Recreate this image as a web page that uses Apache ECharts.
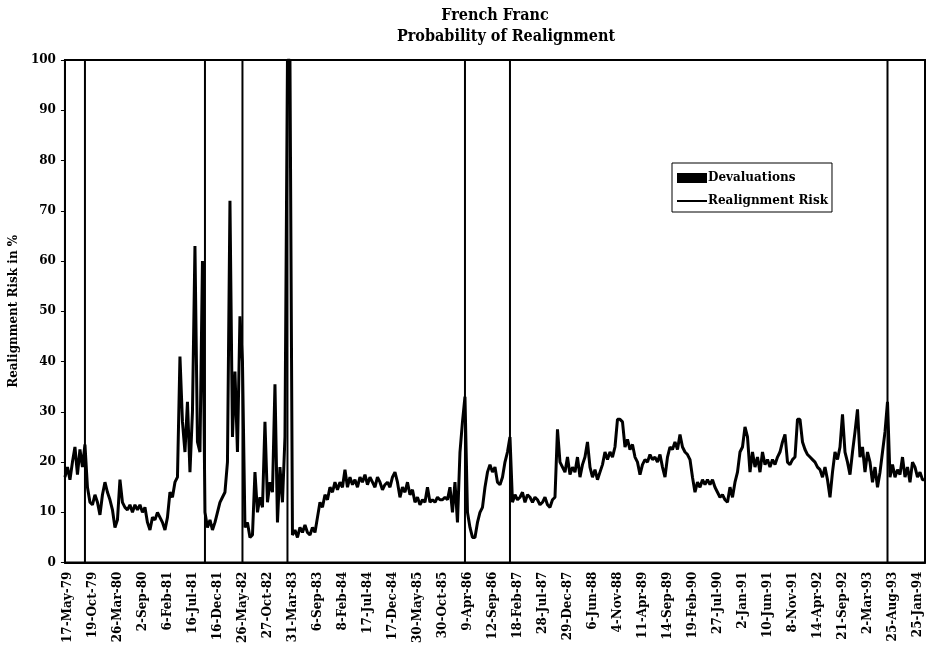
<!DOCTYPE html>
<html><head><meta charset="utf-8">
<script src="https://cdn.jsdelivr.net/npm/echarts@6/dist/echarts.min.js"></script>
<style>html,body{margin:0;padding:0;background:#fff}#c{width:927px;height:646px}</style>
</head><body><div id="c"></div>
<script>
// Tick labels shown on the x axis (one every 10 sample points, first at point 1)
const tickLabels = ['17-May-79','19-Oct-79','26-Mar-80','2-Sep-80','6-Feb-81','16-Jul-81','16-Dec-81','26-May-82','27-Oct-82','31-Mar-83','6-Sep-83','8-Feb-84','17-Jul-84','17-Dec-84','30-May-85','30-Oct-85','9-Apr-86','12-Sep-86','18-Feb-87','28-Jul-87','29-Dec-87','6-Jun-88','4-Nov-88','11-Apr-89','14-Sep-89','19-Feb-90','27-Jul-90','2-Jan-91','10-Jun-91','8-Nov-91','14-Apr-92','21-Sep-92','2-Mar-93','25-Aug-93','25-Jan-94'];
const pointsPerTick = 10;
const firstTickPoint = 1;

const realignmentRisk = [
17,19,16.5,20,23,17.5,22.5,19,23.5,15,
12,11.5,13.5,12,9.5,13.5,16,14,12.5,10.5,
7,8.5,16.5,12,11,10.5,11.5,10,11.5,10.5,
11.5,10,11,8,6.5,9,8.5,10,9,8,
6.5,9,14,13,16,17,41,28,22,32,
18,30,63,24,22,60,10,7,8.5,6.5,
8,10,12,13,14,20,72,25,38,22,
49,40,7,8,5,5.5,18,10,13,11,
28,12,16,14,35.5,8,19,12,25,100,
100,5.5,6.5,5,7,6,7.5,6,5.5,7,
6,9,12,11,13.5,12.5,15,14,16,14.5,
16,15,18.5,15,17,15.5,16.5,15,17,16,
17.5,15.5,17,16,15,17,16,14.5,15.5,16,
15,17,18,16,13,15,14,16,13.5,14.5,
12,13,11.5,12.5,12,15,12,12.5,12,13,
12.5,12.5,13,12.5,15,10,16,8,22,28,
33,10,7,5,5,8,10,11,15,18,
19.5,18,19,16,15.5,17,20,22,25,12,
13.5,12.5,13,14,12,13.5,13,12,13,12.5,
11.5,12,13,11.5,11,12.5,13,26.5,20,19,
18,21,17.5,19,18,21,17,19.5,21,24,
19,17,18.5,16.5,18,19.5,22,20.5,22,21,
23,28.5,28.5,28,23,24.5,22.5,23.5,21,20,
17.5,19.5,20.5,20,21.5,20.5,21,20,21.5,19,
17,21,23,22.5,24,22.5,25.5,23,22,21.5,
20.5,17,14,16,15,16.5,15.5,16.5,15.5,16.5,
15,14,13,13.5,12.5,12,15,13,16,18,
22,23,27,25,18,22,19,21,18,22,
19.5,20.5,19,20.5,19.5,21,22,24,25.5,20,
19.5,20.5,21,28.5,28.5,24,22.5,21.5,21,20.5,
20,19,18.5,17,19,16.5,13,18,22,20.5,
23,29.5,22,20,17.5,22,26,30.5,21,23,
18,22,20,16,19,15,18,22,26,32,
17,19.5,17,18.5,17.5,21,17,19,16,20,
19,17,18,16.5,16.5
];

// Sample points at which a devaluation occurred (Sep-79, Oct-81, Jun-82, Mar-83, Apr-86, Jan-87, Aug-93)
const devaluationPoints = [8,56,71,89,160,178,329];
const devaluationHeight = 100;

const categories = realignmentRisk.map((_, i) => String(i));
const devaluations = realignmentRisk.map((_, i) => devaluationPoints.includes(i) ? devaluationHeight : '-');

const F = '"DejaVu Serif Condensed","DejaVu Serif",serif';
const FL = '"DejaVu Serif",serif';

const chart = echarts.init(document.getElementById('c'), null, {renderer:'canvas'});
chart.setOption({
  animation:false,
  backgroundColor:'#fff',
  title:[
    {text:'French Franc', left:490, top:3, textAlign:'center', textStyle:{fontFamily:F,fontWeight:'bold',fontSize:16,color:'#000'}},
    {text:'Probability of Realignment', left:501, top:24, textAlign:'center', textStyle:{fontFamily:F,fontWeight:'bold',fontSize:16,color:'#000'}}
  ],
  legend:{
    orient:'vertical', left:672, top:163, itemWidth:30, itemHeight:10, itemGap:11,
    padding:[9,4,5,5], borderColor:'#000', borderWidth:1, borderRadius:0, selectedMode:false,
    data:[{name:'Devaluations', icon:'rect'},{name:'Realignment Risk', icon:'path://M0,0H30V2H0Z'}],
    textStyle:{fontFamily:FL,fontWeight:'bold',fontSize:12,color:'#000',padding:[0,0,0,-4]}
  },
  grid:{left:62,right:2,top:60,bottom:83,show:true,borderColor:'#000',borderWidth:2,backgroundColor:'transparent'},
  xAxis:{
    type:'category', data:categories, boundaryGap:false,
    axisLine:{lineStyle:{color:'#000',width:2}}, axisTick:{show:false}, splitLine:{show:false},
    axisLabel:{
      rotate:90, margin:9, showMinLabel:true, showMaxLabel:true,
      interval:(i)=> (i-firstTickPoint) % pointsPerTick === 0,
      formatter:(v,i)=> tickLabels[(i-firstTickPoint)/pointsPerTick] || '',
      fontFamily:FL, fontWeight:'bold', fontSize:12, color:'#000'
    }
  },
  yAxis:{
    type:'value', min:0, max:100, interval:10,
    name:'Realignment Risk in %', nameLocation:'middle', nameGap:42,
    nameTextStyle:{fontFamily:FL,fontWeight:'bold',fontSize:12,color:'#000'},
    axisLine:{show:true,lineStyle:{color:'#000',width:2}},
    axisTick:{show:true,length:4,lineStyle:{color:'#000'}},
    axisLabel:{margin:9,fontFamily:FL,fontWeight:'bold',fontSize:12,color:'#000'},
    splitLine:{show:false}
  },
  series:[
    {name:'Devaluations', type:'bar', data:devaluations, barWidth:2, itemStyle:{color:'#000'}, z:2},
    {name:'Realignment Risk', type:'line', data:realignmentRisk, symbol:'none', showSymbol:false,
     lineStyle:{color:'#000',width:3}, itemStyle:{color:'#000'}, z:3}
  ]
});
</script></body></html>
